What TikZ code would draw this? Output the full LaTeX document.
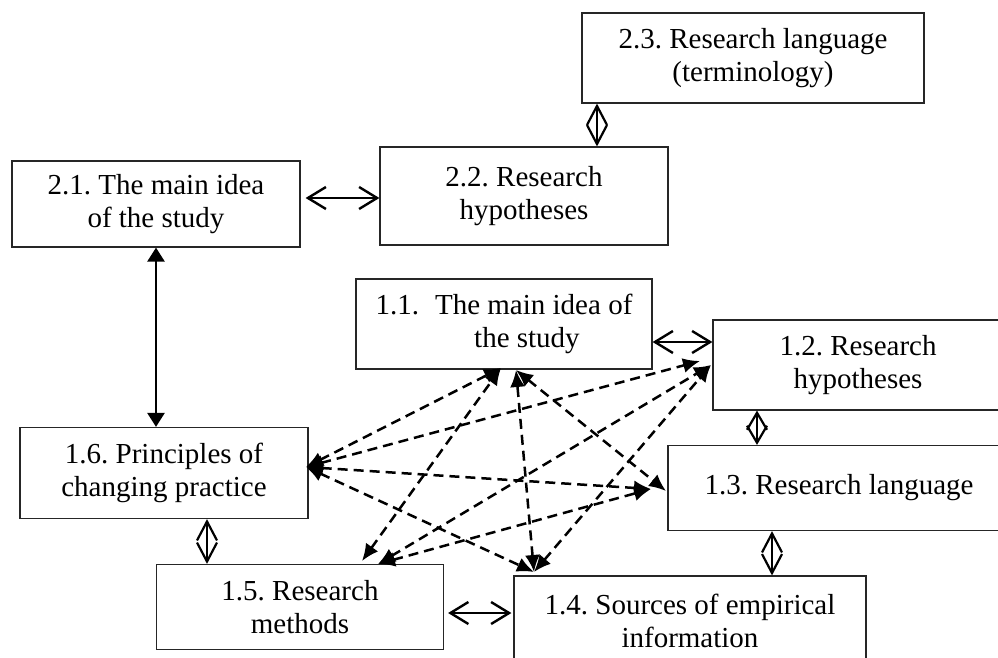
\documentclass[tikz,border=0pt]{standalone}
\usepackage{fontspec}
\setmainfont{Liberation Serif}
\usetikzlibrary{arrows.meta}
\tikzset{
  box/.style={draw=black!85, line width=1.2pt, align=center, inner sep=0pt,
    font=\fontsize{29}{33}\selectfont},
  oarrow/.style={line width=2.4pt,
    {Straight Barb[length=18pt,width=22pt]}-{Straight Barb[length=18pt,width=22pt]}},
  darrow/.style={line width=2.2pt,
    {Straight Barb[length=#1,width=20pt]}-{Straight Barb[length=#1,width=20pt]}},
  darrow/.default=19pt,
  farrow/.style={line width=2.5pt,
    {Triangle[length=14pt,width=17pt]}-{Triangle[length=14pt,width=17pt]}},
  dasharrow/.style={line width=2.5pt, dash pattern=on 10pt off 6pt,
    {Latex[length=17pt,width=15pt]}-{Latex[length=17pt,width=15pt]}}
}
\begin{document}
\frenchspacing
\begin{tikzpicture}[x=1pt,y=-1pt]
\clip (0,0) rectangle (998,658);
\fill[white] (0,0) rectangle (998,658);

\node[box, minimum width=342pt, minimum height=90pt] (n23) at (753,58) {2.3. Research language\\(terminology)};
\node[box, minimum width=288pt, minimum height=98pt] (n22) at (524,196) {2.2. Research\\hypotheses};
\node[box, minimum width=288pt, minimum height=86pt] (n21) at (156,204) {2.1. The main idea\\of the study};
\node[box, minimum width=296pt, minimum height=90pt] (n11) at (504,324) {1.1.\hspace{0.55em}The main idea of\\\hspace*{46pt}the study};
\node[box, minimum width=290pt, minimum height=90pt] (n12) at (858,365) {1.2. Research\\hypotheses};
\node[box, minimum width=342pt, minimum height=85pt] (n13) at (839,488) {1.3. Research language};
\node[box, minimum width=352pt, minimum height=90pt] (n14) at (690,621) {1.4. Sources of empirical\\information};
\node[box, minimum width=287pt, minimum height=85pt] (n15) at (300,607) {1.5. Research\\methods};
\node[box, minimum width=288pt, minimum height=91pt] (n16) at (164,473) {1.6. Principles of\\changing practice};

% solid open double arrows
\draw[oarrow] ([xshift=5pt,yshift=6pt]n21.east) -- ([yshift=-2pt]n22.west);
\draw[oarrow] ([yshift=-18pt]n11.east) -- ([yshift=23pt]n12.west);
\draw[oarrow] ([xshift=4pt,yshift=-6pt]n15.east) -- ([xshift=-2pt,yshift=8pt]n14.west);

% diamond-like vertical arrows
\draw[darrow] ([xshift=-156pt]n23.south) -- ([xshift=73pt]n22.north);
\draw[darrow=17pt] ([xshift=-101pt]n12.south) -- ([xshift=-82pt]n13.north);
\draw[darrow] ([xshift=-67pt]n13.south) -- ([xshift=82pt]n14.north);
\draw[darrow] ([xshift=43pt]n16.south) -- ([xshift=-93pt]n15.north);

% filled vertical arrow
\draw[farrow] (n21.south) -- ([xshift=-8pt]n16.north);

% dashed connector end points
\coordinate (d16) at (306,467);
\coordinate (d11a) at (501,368);
\coordinate (d11b) at (516,370);
\coordinate (d12a) at (700,361);
\coordinate (d12b) at (711,365);
\coordinate (d13a) at (651,489);
\coordinate (d13b) at (666,491);
\coordinate (d14) at (534,572);
\coordinate (d15a) at (362,561);
\coordinate (d15b) at (378,564);

\draw[dasharrow] (d16) -- (d11a);
\draw[dasharrow] (d16) -- (d12a);
\draw[dasharrow] (d16) -- (d13a);
\draw[dasharrow] (d16) -- (d14);
\draw[dasharrow] (d15a) -- (d11a);
\draw[dasharrow] (d15b) -- (d12b);
\draw[dasharrow] (d15b) -- (d13a);
\draw[dasharrow] (d14) -- (d11b);
\draw[dasharrow] (d14) -- (d12b);
\draw[dasharrow] (d11b) -- (d13b);
\end{tikzpicture}
\end{document}
